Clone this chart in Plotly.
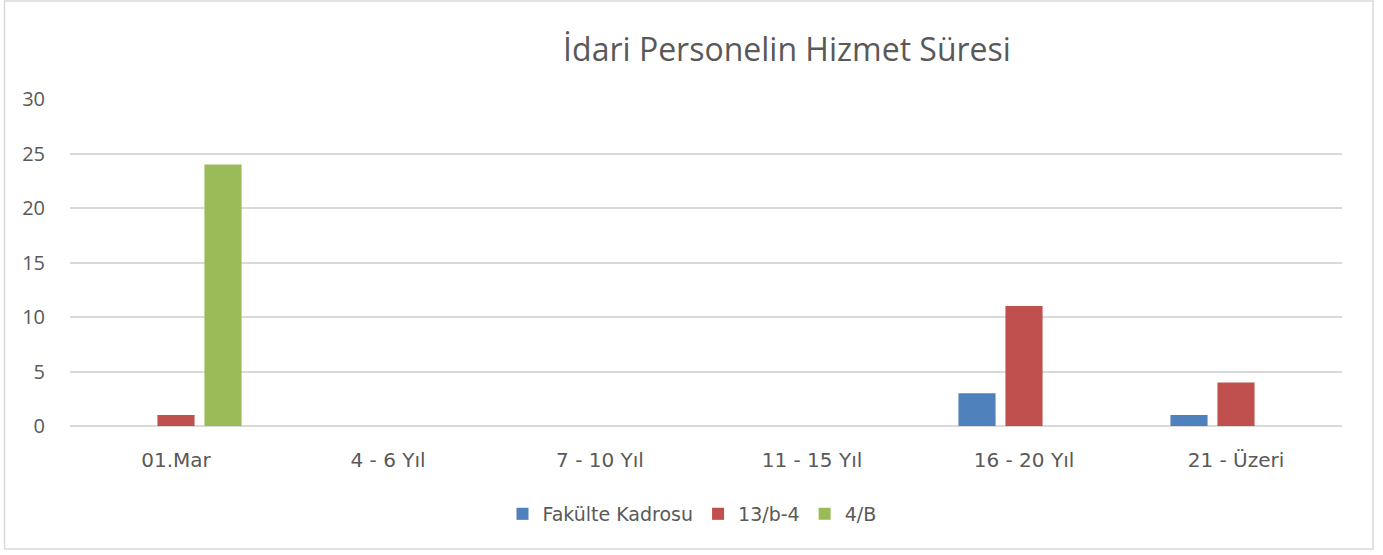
from plotly import graph_objects as go

# Data
categories = ["01.Mar", "4 - 6 Yıl", "7 - 10 Yıl", "11 - 15 Yıl", "16 - 20 Yıl", "21 - Üzeri"]
fakulte_kadrosu = [0, 0, 0, 0, 3, 1]
b13_4 = [1, 0, 0, 0, 11, 4]
b4 = [24, 0, 0, 0, 0, 0]
y_ticks = [0, 5, 10, 15, 20, 25, 30]

W, H = 1383, 555
ML, MR, MT, MB = 70, 41, 99, 129

WIDE = "'DejaVu Sans', sans-serif"
PLAIN = "'Open Sans', sans-serif"
TEXT = "#595959"

fig = go.Figure()
for name, vals, col in [
    ("Fakülte Kadrosu", fakulte_kadrosu, "#4F81BD"),
    ("13/b-4", b13_4, "#C0504D"),
    ("4/B", b4, "#9BBB59"),
]:
    fig.add_trace(go.Bar(x=categories, y=vals, name=name, marker_color=col,
                         marker_line_width=0))

fig.update_layout(
    width=W, height=H,
    margin=dict(l=ML, r=MR, t=MT, b=MB),
    paper_bgcolor="white", plot_bgcolor="white",
    barmode="group", bargap=0.335, bargroupgap=0.21,
    font=dict(family=WIDE, color=TEXT, size=19),
    title=dict(text="İdari Personelin Hizmet Süresi", x=787 / W, xanchor="center",
               y=1 - 50 / H, yanchor="middle",
               font=dict(family=PLAIN, size=32, color=TEXT)),
    legend=dict(orientation="h", x=(692 - ML) / (W - ML - MR), xanchor="center",
                y=-(514 - (H - MB)) / (H - MT - MB), yanchor="middle",
                font=dict(family=WIDE, size=19, color=TEXT), itemwidth=30,
                traceorder="normal"),
    xaxis=dict(showgrid=False, showline=False, ticks="", ticklabelstandoff=20,
               tickfont=dict(family=WIDE, size=20, color=TEXT)),
    yaxis=dict(range=[0, 30], tickvals=y_ticks, showgrid=True, gridcolor="#D9D9D9",
               gridwidth=1.5, zeroline=True, zerolinecolor="#D9D9D9", zerolinewidth=1.5,
               ticks="", ticklabelstandoff=24,
               tickfont=dict(family=PLAIN, size=20, color=TEXT)),
)

fig.add_shape(type="rect", xref="paper", yref="paper",
              x0=-(ML - 4.5) / (W - ML - MR), x1=1 + (1373 - (W - MR)) / (W - ML - MR),
              y0=-(549 - (H - MB)) / (H - MT - MB), y1=1 + (MT - 1) / (H - MT - MB),
              line=dict(color="#D9D9D9", width=1.5), layer="below")

# drop the default page margin so the figure sits at the window's top-left corner
fig.write_html("out.html", config={"displayModeBar": False},
               post_script=["document.body.style.margin = '0';"])
